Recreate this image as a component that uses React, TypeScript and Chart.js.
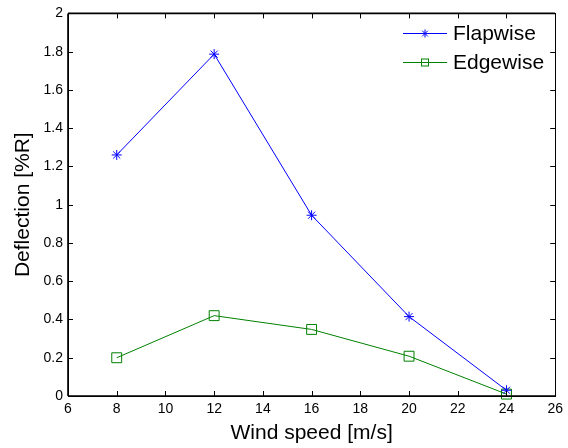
import React, { useEffect, useRef } from "react";
import { Chart, registerables } from "chart.js";

Chart.register(...registerables);

const windSpeeds = [8, 12, 16, 20, 24];
const flapwise = [1.26, 1.787, 0.945, 0.415, 0.03];
const edgewise = [0.2, 0.42, 0.348, 0.208, 0.01];
const xTicks = [6, 8, 10, 12, 14, 16, 18, 20, 22, 24, 26];
const yTicks = [0, 0.2, 0.4, 0.6, 0.8, 1, 1.2, 1.4, 1.6, 1.8, 2];
const seriesNames = ["Flapwise", "Edgewise"];
const seriesColors = ["#0000ff", "#008000"];

const FONT = "'Liberation Sans', Arial, Helvetica, sans-serif";

const framePlugin = {
  id: "matlabFrame",
  afterDatasetsDraw(chart: any) {
    const { ctx, chartArea } = chart;
    const xs = chart.scales.x;
    const ys = chart.scales.y;
    const { left, right, top, bottom } = chartArea;
    ctx.save();
    ctx.strokeStyle = "#000";
    ctx.lineWidth = 1;
    ctx.beginPath();
    const tl = 5;
    for (const v of xTicks) {
      const px = Math.round(xs.getPixelForValue(v)) + 0.5;
      ctx.moveTo(px, bottom);
      ctx.lineTo(px, bottom - tl);
      ctx.moveTo(px, top);
      ctx.lineTo(px, top + tl);
    }
    for (const v of yTicks) {
      const py = Math.round(ys.getPixelForValue(v)) + 0.5;
      ctx.moveTo(left, py);
      ctx.lineTo(left + tl, py);
      ctx.moveTo(right, py);
      ctx.lineTo(right - tl, py);
    }
    ctx.stroke();
    ctx.strokeRect(Math.round(left) + 0.5, Math.round(top) + 0.5, Math.round(right - left), Math.round(bottom - top));
    ctx.lineWidth = 1.6;
    ctx.beginPath();
    ctx.moveTo(Math.round(left), bottom);
    ctx.lineTo(Math.round(right), bottom);
    ctx.moveTo(Math.round(left), top);
    ctx.lineTo(Math.round(left), bottom);
    ctx.moveTo(Math.round(left), top);
    ctx.lineTo(Math.round(right), top);
    ctx.stroke();
    ctx.restore();
  },
  afterDraw(chart: any) {
    const { ctx } = chart;
    ctx.save();
    const x0 = 403;
    const x1 = 447;
    const xm = 425;
    const ys = [33.5, 62.5];
    seriesNames.forEach((name, i) => {
      const y = ys[i];
      ctx.strokeStyle = seriesColors[i];
      ctx.lineWidth = 1;
      ctx.beginPath();
      ctx.moveTo(x0, y);
      ctx.lineTo(x1, y);
      ctx.stroke();
      if (i === 0) {
        const r = 4;
        ctx.beginPath();
        ctx.moveTo(xm - r, y);
        ctx.lineTo(xm + r, y);
        ctx.moveTo(xm, y - r);
        ctx.lineTo(xm, y + r);
        const d = r * 0.707;
        ctx.moveTo(xm - d, y - d);
        ctx.lineTo(xm + d, y + d);
        ctx.moveTo(xm - d, y + d);
        ctx.lineTo(xm + d, y - d);
        ctx.stroke();
      } else {
        ctx.strokeRect(xm - 3.5, y - 3.5, 7, 7);
      }
      ctx.fillStyle = "#000";
      ctx.font = `21px ${FONT}`;
      ctx.textBaseline = "middle";
      ctx.textAlign = "left";
      ctx.fillText(name, 453, y + 1);
    });
    ctx.restore();
  },
};

export default function App() {
  const ref = useRef<HTMLCanvasElement | null>(null);
  useEffect(() => {
    if (!ref.current) return;
    const chart = new Chart(ref.current, {
      type: "line",
      data: {
        datasets: [
          {
            label: seriesNames[0],
            data: windSpeeds.map((x, i) => ({ x, y: flapwise[i] })),
            borderColor: seriesColors[0],
            backgroundColor: "transparent",
            borderWidth: 1,
            pointStyle: "star",
            pointRadius: 5,
            pointBorderWidth: 1,
            pointBorderColor: seriesColors[0],
            pointBackgroundColor: seriesColors[0],
            tension: 0,
            clip: false as any,
          },
          {
            label: seriesNames[1],
            data: windSpeeds.map((x, i) => ({ x, y: edgewise[i] })),
            borderColor: seriesColors[1],
            backgroundColor: "transparent",
            borderWidth: 1,
            pointStyle: "rect",
            pointRadius: 7,
            pointBorderWidth: 1,
            pointBorderColor: seriesColors[1],
            pointBackgroundColor: "transparent",
            tension: 0,
            clip: false as any,
          },
        ],
      },
      options: {
        animation: false,
        responsive: false,
        maintainAspectRatio: false,
        layout: { padding: { top: 9, right: 10, left: 0, bottom: 0 } },
        plugins: { legend: { display: false }, tooltip: { enabled: false } },
        scales: {
          x: {
            type: "linear",
            min: 6,
            max: 26,
            grid: { display: false, drawTicks: false },
            border: { display: false },
            afterBuildTicks: (s: any) => {
              s.ticks = xTicks.map((v) => ({ value: v }));
            },
            afterFit: (s: any) => {
              s.height = 52;
            },
            ticks: {
              color: "#000",
              font: { family: FONT, size: 14 },
              padding: 5,
              maxRotation: 0,
              autoSkip: false,
              callback: (v: any) => String(v),
            },
            title: {
              display: true,
              text: "Wind speed [m/s]",
              color: "#000",
              font: { family: FONT, size: 21 },
              padding: { top: 3, bottom: 2 },
            },
          },
          y: {
            type: "linear",
            min: 0,
            max: 2,
            grid: { display: false, drawTicks: false },
            border: { display: false },
            afterBuildTicks: (s: any) => {
              s.ticks = yTicks.map((v) => ({ value: v }));
            },
            afterFit: (s: any) => {
              s.width = 68;
            },
            ticks: {
              color: "#000",
              font: { family: FONT, size: 14 },
              padding: 5,
              autoSkip: false,
              callback: (v: any) => String(Number(Number(v).toFixed(1))),
            },
            title: {
              display: true,
              text: "Deflection [%R]",
              color: "#000",
              font: { family: FONT, size: 21 },
              padding: { top: 11, bottom: 0 },
            },
          },
        },
      },
      plugins: [framePlugin],
    });
    return () => chart.destroy();
  }, []);
  return (
    <div style={{ position: "fixed", left: 0, top: 0, width: 568, height: 448, background: "#fff" }}>
      <canvas ref={ref} width={568} height={448} style={{ width: 568, height: 448, display: "block" }} />
    </div>
  );
}
